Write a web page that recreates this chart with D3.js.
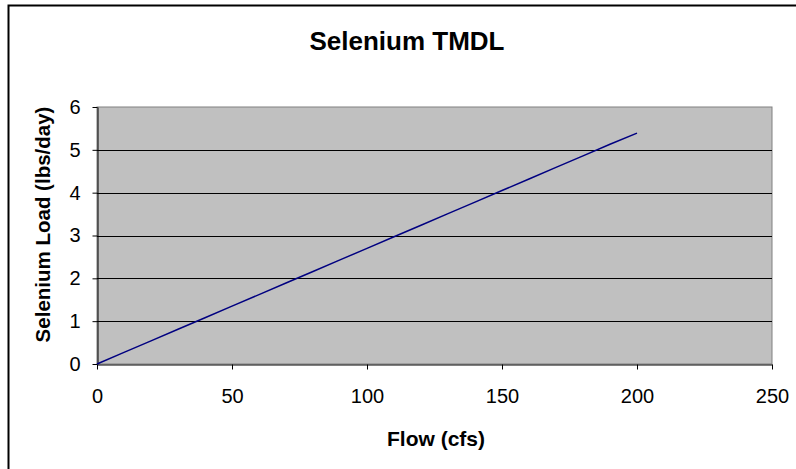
<!DOCTYPE html>
<html>
<head>
<meta charset="utf-8">
<script src="https://cdn.jsdelivr.net/npm/d3@7"></script>
<style>
  body { margin: 0; background: #fff; }
  text { font-family: "Liberation Sans", Arial, sans-serif; }
</style>
</head>
<body>
<div id="chart"></div>
<script>
// flow (cfs) vs selenium load (lbs/day)
const flows = [0, 10, 20, 30, 40, 50, 60, 70, 80, 90, 100, 110, 120, 130, 140, 150, 160, 170, 180, 190, 200];
const loads = [0, 0.27, 0.54, 0.81, 1.08, 1.35, 1.62, 1.89, 2.16, 2.43, 2.70, 2.97, 3.24, 3.51, 3.78, 4.05, 4.32, 4.59, 4.86, 5.13, 5.39];
const xTicks = [0, 50, 100, 150, 200, 250];
const yTicks = [0, 1, 2, 3, 4, 5, 6];

const width = 796, height = 469;
const plotL = 97, plotR = 772, plotT = 107, plotB = 364;

const svg = d3.select("#chart").append("svg")
    .attr("width", width)
    .attr("height", height);

// chart frame (only left/top edges visible)
svg.append("rect")
    .attr("x", 8.5).attr("y", 5.5)
    .attr("width", 820).attr("height", 500)
    .attr("fill", "white")
    .attr("stroke", "black")
    .attr("stroke-width", 2);

const x = d3.scaleLinear().domain([0, 250]).range([plotL, plotR]);
const y = d3.scaleLinear().domain([0, 6]).range([plotB, plotT]);

// plot area
svg.append("rect")
    .attr("x", plotL).attr("y", plotT)
    .attr("width", plotR - plotL).attr("height", plotB - plotT)
    .attr("fill", "#c0c0c0")
    .attr("stroke", "#808080")
    .attr("stroke-width", 1);

// gridlines
svg.append("g")
    .selectAll("line")
    .data(yTicks.filter(d => d > 0 && d < 6))
    .enter()
    .append("line")
    .attr("x1", plotL).attr("x2", plotR)
    .attr("y1", d => Math.round(y(d)) + .5)
    .attr("y2", d => Math.round(y(d)) + .5)
    .attr("stroke", "black");

// axes
const xaxis = svg.append("g")
    .attr("transform", `translate(0, ${plotB + .5})`)
    .call(d3.axisBottom(x).tickValues(xTicks).tickFormat(d3.format("d"))
        .tickSize(5).tickPadding(19).tickSizeOuter(0));
const yaxis = svg.append("g")
    .attr("transform", `translate(${plotL + .5}, 0)`)
    .call(d3.axisLeft(y).tickValues(yTicks).tickFormat(d3.format("d"))
        .tickSize(5).tickPadding(12).tickSizeOuter(0));

[xaxis, yaxis].forEach(a => {
    a.selectAll("text")
        .style("font-family", "'Liberation Sans', Arial, sans-serif")
        .style("font-size", "20px")
        .attr("fill", "black");
    a.select(".domain").attr("stroke", "black");
    a.selectAll(".tick line").attr("stroke", "black");
});

// data line
const line = d3.line()
    .x((d, i) => x(flows[i]))
    .y(d => y(d));

svg.append("path")
    .datum(loads)
    .attr("d", line)
    .attr("fill", "none")
    .attr("stroke", "#000080")
    .attr("stroke-width", 1.5);

// titles
svg.append("text")
    .attr("x", 407).attr("y", 50)
    .attr("text-anchor", "middle")
    .style("font-size", "26px")
    .style("font-weight", "bold")
    .text("Selenium TMDL");

svg.append("text")
    .attr("x", 436).attr("y", 446)
    .attr("text-anchor", "middle")
    .style("font-size", "21px")
    .style("font-weight", "bold")
    .text("Flow (cfs)");

svg.append("text")
    .attr("transform", `translate(50, 224.5) rotate(-90)`)
    .attr("text-anchor", "middle")
    .style("font-size", "20.5px")
    .style("font-weight", "bold")
    .text("Selenium Load (lbs/day)");
</script>
</body>
</html>
